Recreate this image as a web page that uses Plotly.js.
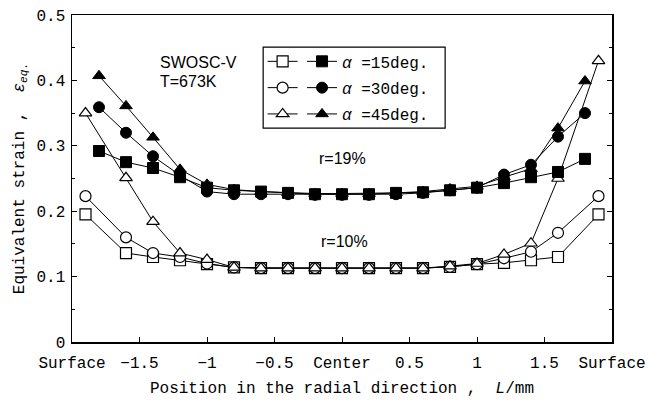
<!DOCTYPE html>
<html>
<head>
<meta charset="utf-8">
<script src="https://cdn.plot.ly/plotly-3.0.1.min.js"></script>
<style>html,body{margin:0;padding:0;background:#fff;}#chart{width:650px;height:400px;}</style>
</head>
<body>
<div id="chart"></div>
<script>
// Positions (mm from center)
const x10 = [-1.9, -1.6, -1.4, -1.2, -1.0, -0.8, -0.6, -0.4, -0.2, 0, 0.2, 0.4, 0.6, 0.8, 1.0, 1.2, 1.4, 1.6, 1.9];
const x19 = [-1.8, -1.6, -1.4, -1.2, -1.0, -0.8, -0.6, -0.4, -0.2, 0, 0.2, 0.4, 0.6, 0.8, 1.0, 1.2, 1.4, 1.6, 1.8];

// r = 10 % (open symbols)
const r10_a15 = [0.195, 0.136, 0.130, 0.125, 0.119, 0.114, 0.113, 0.113, 0.113, 0.113, 0.113, 0.113, 0.113, 0.115, 0.119, 0.121, 0.125, 0.130, 0.195];
const r10_a30 = [0.223, 0.160, 0.136, 0.130, 0.120, 0.114, 0.113, 0.113, 0.113, 0.113, 0.113, 0.113, 0.113, 0.115, 0.119, 0.128, 0.138, 0.167, 0.223];
const r10_a45 = [0.350, 0.251, 0.184, 0.136, 0.126, 0.114, 0.113, 0.113, 0.113, 0.113, 0.113, 0.113, 0.113, 0.116, 0.120, 0.134, 0.151, 0.250, 0.430];

// r = 19 % (filled symbols)
const r19_a15 = [0.292, 0.275, 0.266, 0.252, 0.236, 0.232, 0.230, 0.228, 0.226, 0.226, 0.226, 0.228, 0.229, 0.232, 0.236, 0.243, 0.252, 0.260, 0.280];
const r19_a30 = [0.359, 0.320, 0.284, 0.255, 0.230, 0.226, 0.226, 0.226, 0.225, 0.225, 0.225, 0.226, 0.228, 0.232, 0.236, 0.256, 0.271, 0.314, 0.350];
const r19_a45 = [0.407, 0.361, 0.313, 0.264, 0.241, 0.233, 0.230, 0.228, 0.227, 0.227, 0.227, 0.228, 0.230, 0.234, 0.238, 0.252, 0.265, 0.327, 0.399];

const seriesNames = ['<i>\u03B1</i> =15deg.', '<i>\u03B1</i> =30deg.', '<i>\u03B1</i> =45deg.'];
const tickVals = [-2, -1.5, -1, -0.5, 0, 0.5, 1, 1.5, 2];
const tickText = ['Surface', '\u22121.5', '\u22121', '\u22120.5', 'Center', '0.5', '1', '1.5', 'Surface'];

const FONT = 'Liberation Mono, DejaVu Sans Mono, monospace';
const SANS = 'Liberation Sans Narrow, Liberation Sans, sans-serif';
const symbols = ['square', 'circle', 'triangle-up'];

function openTrace(y, i) {
  return {
    x: x10, y: y, type: 'scatter', mode: 'lines+markers',
    name: '\u00a0', legend: 'legend', legendgroup: 'o' + i,
    line: {color: '#000', width: 1},
    marker: {symbol: symbols[i], size: 11, color: '#fff', line: {color: '#000', width: 1.2}},
    cliponaxis: false
  };
}
function fillTrace(y, i) {
  return {
    x: x19, y: y, type: 'scatter', mode: 'lines+markers',
    name: seriesNames[i], legend: 'legend2', legendgroup: 'f' + i,
    line: {color: '#000', width: 1},
    marker: {symbol: symbols[i], size: 11, color: '#000', line: {color: '#000', width: 1}},
    cliponaxis: false
  };
}

const data = [
  openTrace(r10_a15, 0), openTrace(r10_a30, 1), openTrace(r10_a45, 2),
  fillTrace(r19_a15, 0), fillTrace(r19_a30, 1), fillTrace(r19_a45, 2)
];

const legendCommon = {
  bgcolor: 'rgba(0,0,0,0)', borderwidth: 0,
  font: {family: FONT, size: 16, color: '#000'},
  xanchor: 'left', yanchor: 'top', tracegroupgap: 2.5, traceorder: 'grouped',
  itemclick: false, itemdoubleclick: false
};

const layout = {
  width: 650, height: 400,
  margin: {l: 72, r: 38, t: 15, b: 58},
  paper_bgcolor: '#fff', plot_bgcolor: '#fff',
  font: {family: FONT, size: 16, color: '#000'},
  showlegend: true,
  legend: Object.assign({}, legendCommon, {x: 0.353, y: 0.91}),
  legend2: Object.assign({}, legendCommon, {x: 0.426, y: 0.91}),
  xaxis: {
    range: [-2, 2], tickmode: 'array', tickvals: tickVals, ticktext: tickText,
    ticks: 'inside', ticklen: 5, tickcolor: '#000', showgrid: false, zeroline: false,
    showline: true, linecolor: '#000', linewidth: 1.5, mirror: true,
    tickfont: {family: FONT, size: 16}, ticklabelstandoff: 5,
    title: {text: 'Position in the radial direction ,  <i>L</i>/mm', font: {family: FONT, size: 16}, standoff: 10}
  },
  yaxis: {
    range: [0, 0.5], tickvals: [0, 0.1, 0.2, 0.3, 0.4, 0.5], ticktext: ['0', '0.1', '0.2', '0.3', '0.4', '0.5'],
    ticks: 'inside', ticklen: 5, tickcolor: '#000', showgrid: false, zeroline: false,
    showline: true, linecolor: '#000', linewidth: 1.5, mirror: 'ticks',
    minor: {ticks: 'inside', ticklen: 3, dtick: 0.05, tickcolor: '#000', showgrid: false},
    tickfont: {family: FONT, size: 16}, ticklabelstandoff: 2,
    title: {text: 'Equivalent strain ,  <i>\u03B5</i><sub><i>eq.</i></sub>', font: {family: FONT, size: 16}, standoff: 8}
  },
  shapes: [
    {type: 'rect', xref: 'paper', yref: 'paper', x0: 0.354, x1: 0.691, y0: 0.654, y1: 0.902,
     line: {color: '#000', width: 1.2}, fillcolor: 'rgba(0,0,0,0)'}
  ],
  annotations: [
    {x: -1.36, y: 0.428, xref: 'x', yref: 'y', text: 'SWOSC-V', showarrow: false, xanchor: 'left', font: {family: SANS, size: 16}},
    {x: -1.36, y: 0.398, xref: 'x', yref: 'y', text: 'T=673K', showarrow: false, xanchor: 'left', font: {family: SANS, size: 16}},
    {x: 0, y: 0.281, xref: 'x', yref: 'y', text: 'r=19%', showarrow: false, font: {family: SANS, size: 16}},
    {x: 0.02, y: 0.154, xref: 'x', yref: 'y', text: 'r=10%', showarrow: false, font: {family: SANS, size: 16}}
  ]
};

Plotly.newPlot('chart', data, layout, {displayModeBar: false, staticPlot: true});
</script>
</body>
</html>
